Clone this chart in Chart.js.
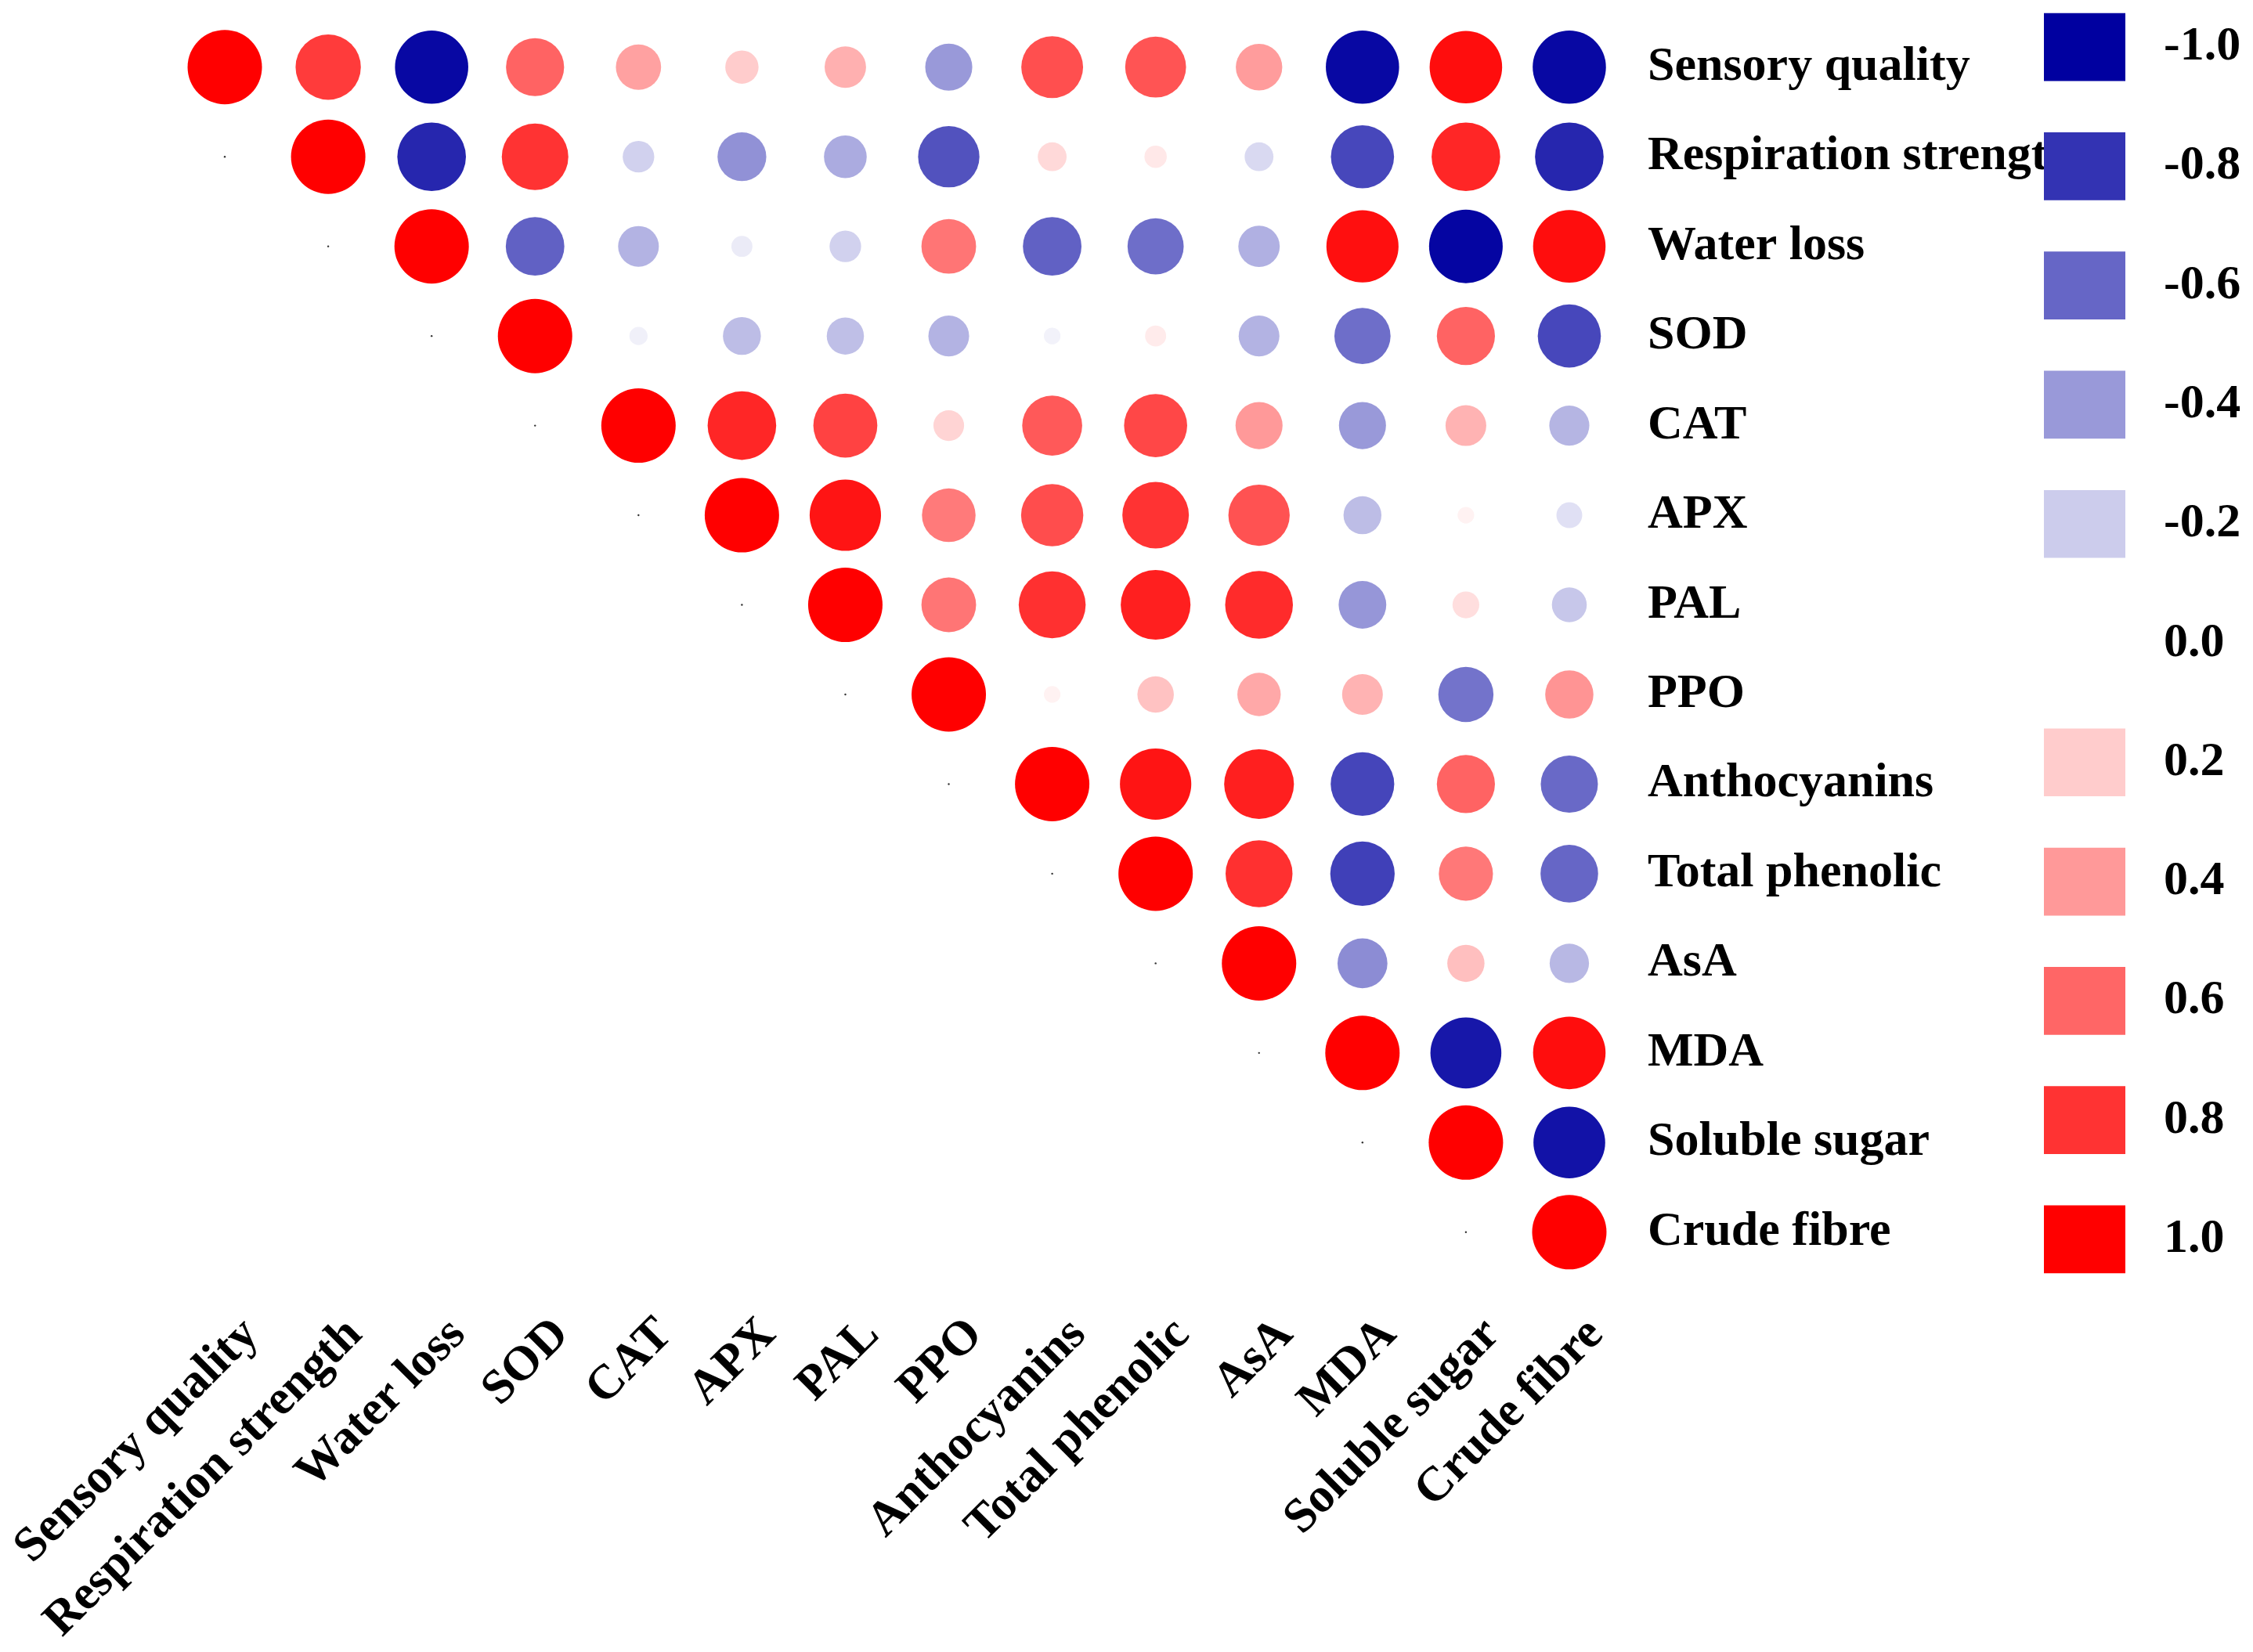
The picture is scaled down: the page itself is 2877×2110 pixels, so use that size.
<!DOCTYPE html>
<html>
<head>
<meta charset="utf-8">
<script src="https://cdn.jsdelivr.net/npm/chart.js@4.4.1/dist/chart.umd.min.js"></script>
<style>
  html, body { margin: 0; padding: 0; background: #fff; overflow: hidden; }
  #wrap { position: relative; width: 2877px; height: 2110px; overflow: hidden; }
  #corrChart { position: absolute; left: 0; top: -19px; }
  #legendChart { position: absolute; left: 2610px; top: -16px; }
</style>
</head>
<body>
<div id="wrap">
  <canvas id="corrChart" width="2877" height="2129"></canvas>
  <canvas id="legendChart" width="267" height="1675"></canvas>
</div>
<script>
const variables = [
  'Sensory quality', 'Respiration strength', 'Water loss', 'SOD', 'CAT', 'APX', 'PAL',
  'PPO', 'Anthocyanins', 'Total phenolic', 'AsA', 'MDA', 'Soluble sugar', 'Crude fibre'
];

// upper triangle, each row starts on the diagonal
const sensoryQuality = [1, 0.77, -0.97, 0.61, 0.37, 0.2, 0.31, -0.4, 0.69, 0.67, 0.39, -0.97, 0.95, -0.97];
const respirationStrength = [1, -0.85, 0.8, -0.18, -0.43, -0.33, -0.68, 0.15, 0.09, -0.15, -0.72, 0.85, -0.85];
const waterLoss = [1, -0.62, -0.3, -0.08, -0.18, 0.54, -0.62, -0.57, -0.31, 0.94, -0.98, 0.95];
const sod = [1, -0.06, -0.26, -0.25, -0.3, -0.05, 0.08, -0.3, -0.57, 0.61, -0.72];
const cat = [1, 0.85, 0.74, 0.17, 0.65, 0.72, 0.4, -0.4, 0.3, -0.29];
const apx = [1, 0.92, 0.52, 0.7, 0.8, 0.68, -0.26, 0.05, -0.12];
const pal = [1, 0.54, 0.81, 0.88, 0.83, -0.41, 0.13, -0.22];
const ppo = [1, 0.05, 0.24, 0.34, 0.3, -0.55, 0.42];
const anthocyanins = [1, 0.92, 0.88, -0.73, 0.61, -0.59];
const totalPhenolic = [1, 0.81, -0.75, 0.53, -0.6];
const asa = [1, -0.45, 0.25, -0.28];
const mda = [1, -0.91, 0.95];
const solubleSugar = [1, -0.93];
const crudeFibre = [1];

const legendTicks = [-1.0, -0.8, -0.6, -0.4, -0.2, 0.0, 0.2, 0.4, 0.6, 0.8, 1.0];

const rows = [sensoryQuality, respirationStrength, waterLoss, sod, cat, apx, pal,
  ppo, anthocyanins, totalPhenolic, asa, mda, solubleSugar, crudeFibre];

function corrColor(v) {
  const a = Math.min(1, Math.abs(v));
  if (v >= 0) {
    const c = Math.round(255 * (1 - a));
    return `rgb(255,${c},${c})`;
  }
  const c = Math.round(255 * (1 - a));
  const b = Math.round(255 - 95 * a);
  return `rgb(${c},${c},${b})`;
}

const points = [];
rows.forEach((row, r) => {
  row.forEach((v, k) => {
    points.push({ x: variables[r + k], y: variables[r], v: v });
  });
});

// the little marks just under the diagonal
const stubs = [];
for (let r = 1; r < variables.length; r++) {
  stubs.push({ x: variables[r - 1], y: variables[r] });
}

const labelFont = { family: '"Liberation Serif", "Times New Roman", serif', size: 62, weight: 'bold' };
const maxRadius = 47.5;

// keep Chart.js from adding room for the overhanging labels
function noPadding(s) {
  s.paddingLeft = 0;
  s.paddingRight = 0;
  s.paddingTop = 0;
  s.paddingBottom = 0;
}

new Chart(document.getElementById('corrChart'), {
  type: 'scatter',
  data: {
    datasets: [
      {
        data: points,
        pointRadius: ctx => maxRadius * Math.sqrt(Math.abs(ctx.raw.v)),
        pointBackgroundColor: ctx => corrColor(ctx.raw.v),
        pointBorderWidth: 0,
        pointHoverRadius: ctx => maxRadius * Math.sqrt(Math.abs(ctx.raw.v))
      },
      {
        data: stubs,
        pointRadius: 1.2,
        pointBackgroundColor: '#333',
        pointBorderWidth: 0
      }
    ]
  },
  options: {
    responsive: false,
    animation: false,
    layout: { padding: { left: 221, top: 7, right: 0, bottom: 0 } },
    plugins: { legend: { display: false }, tooltip: { enabled: false } },
    scales: {
      x: {
        type: 'category',
        labels: variables,
        offset: true,
        position: 'bottom',
        grid: { display: false, drawTicks: false },
        border: { display: false },
        ticks: {
          autoSkip: false, minRotation: 45, maxRotation: 45,
          padding: 38, labelOffset: 34, color: '#000', font: labelFont
        },
        afterFit: s => { s.height = 479; noPadding(s); }
      },
      y: {
        type: 'category',
        labels: variables,
        offset: true,
        position: 'right',
        grid: { display: false, drawTicks: false },
        border: { display: false },
        ticks: { autoSkip: false, padding: 34, crossAlign: 'near', color: '#000', font: labelFont },
        afterFit: s => { s.width = 807; noPadding(s); }
      }
    }
  }
});

new Chart(document.getElementById('legendChart'), {
  type: 'bar',
  data: {
    labels: legendTicks.map(t => t.toFixed(1)),
    datasets: [{
      data: legendTicks.map(() => 1),
      backgroundColor: legendTicks.map(t => t === 0 ? '#ffffff' : corrColor(t)),
      borderWidth: 0,
      barThickness: 86
    }]
  },
  options: {
    indexAxis: 'y',
    responsive: false,
    animation: false,
    layout: { padding: 0 },
    plugins: { legend: { display: false }, tooltip: { enabled: false } },
    scales: {
      x: { display: false, min: 0, max: 1 },
      y: {
        position: 'right',
        offset: true,
        grid: { display: false, drawTicks: false },
        border: { display: false },
        ticks: { padding: 49, crossAlign: 'near', color: '#000', font: labelFont },
        afterFit: s => { s.width = 163; noPadding(s); }
      }
    }
  }
});
</script>
</body>
</html>
